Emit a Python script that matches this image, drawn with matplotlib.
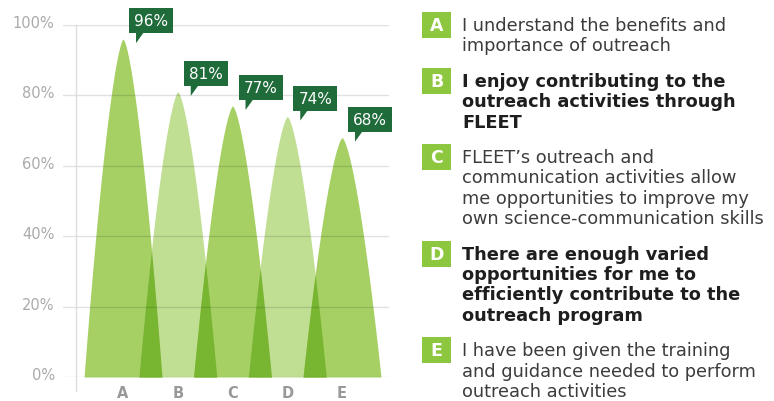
import numpy as np
import matplotlib.pyplot as plt
from matplotlib.patches import Rectangle, Polygon
from matplotlib.transforms import ScaledTranslation

categories = ['A', 'B', 'C', 'D', 'E']
values = [96, 81, 77, 74, 68]
y_ticks = [0, 20, 40, 60, 80, 100]
statements = [
    ['I understand the benefits and', 'importance of outreach'],
    ['I enjoy contributing to the', 'outreach activities through', 'FLEET'],
    ['FLEET\u2019s outreach and', 'communication activities allow',
     'me opportunities to improve my', 'own science-communication skills'],
    ['There are enough varied', 'opportunities for me to',
     'efficiently contribute to the', 'outreach program'],
    ['I have been given the training', 'and guidance needed to perform',
     'outreach activities'],
]
bold_items = [False, True, False, True, False]

dark_fill = '#a6d064'
light_fill = '#c0df93'
overlap_fill = '#78b530'
callout = '#1f6b3a'
badge = '#8dc63f'

W, H = 774, 402
fig = plt.figure(figsize=(W / 100, H / 100), dpi=100)
ax = fig.add_axes([63 / W, 1 - 378 / H, (389 - 63) / W, (378 - 26) / H])
ax.set_xlim(-1.096, 4.858)
ax.set_ylim(0, 100)
for s in ax.spines.values():
    s.set_visible(False)

# peak shapes
half_w = 0.712
xs = np.linspace(-1.1, 4.9, 3000)
shapes = []
for i, v in enumerate(values):
    t = np.clip(np.abs(xs - i) / half_w, 0, 1)
    y = v * (1 - t ** 1.5)
    shapes.append(y)
    ax.fill_between(xs, 0, y, where=y > 0, color=dark_fill if i % 2 == 0 else light_fill,
                    lw=0, zorder=2)
for i in range(len(values) - 1):
    y = np.minimum(shapes[i], shapes[i + 1])
    ax.fill_between(xs, 0, y, where=y > 0, color=overlap_fill, lw=0, zorder=3)

# grid + axis line
for yt in y_ticks:
    ax.axhline(yt, color='black', alpha=0.12, lw=1, zorder=4)
ax.plot([-0.858, -0.858], [-4, 100], color='#dddddd', lw=1, clip_on=False, zorder=4)

ax.set_yticks(y_ticks)
ax.set_yticklabels([f'{t}%' for t in y_ticks])
ax.tick_params(axis='y', length=0, pad=6, labelsize=10.5, labelcolor='#aaaaaa')
for lab in ax.get_yticklabels():
    lab.set_transform(lab.get_transform() + ScaledTranslation(0, 4 / 100, fig.dpi_scale_trans))
ax.set_xticks(range(len(categories)))
ax.set_xticklabels(categories, fontweight='bold')
ax.tick_params(axis='x', length=0, pad=6, labelsize=10.5, labelcolor='#999999')

# callouts
inv = fig.transFigure.inverted()
fig.canvas.draw()
for i, v in enumerate(values):
    px, py = ax.transData.transform((i, v))
    bl = px + 6
    bb = py + 6
    bw, bh = 44, 25
    rect = Rectangle(inv.transform((bl, bb)), bw / W, bh / H, transform=fig.transFigure,
                     color=callout, lw=0, zorder=5)
    fig.patches.append(rect)
    tri = Polygon([inv.transform(p) for p in [(bl + 7, bb + 1), (bl + 15, bb + 1), (bl + 7, bb - 10)]],
                  closed=True, transform=fig.transFigure, color=callout, lw=0, zorder=5)
    fig.patches.append(tri)
    cx, cy = inv.transform((bl + bw / 2, bb + bh / 2))
    fig.text(cx, cy, f'{v}%', color='white', fontsize=11, ha='center', va='center', zorder=6)

# legend statements
line_gap = 20.4
item_gap = 15
y = 26
for k, (cat, lines) in enumerate(zip(categories, statements)):
    fig.patches.append(Rectangle((422 / W, 1 - (y + 13) / H), 29 / W, 26 / H,
                                 transform=fig.transFigure, color=badge, lw=0))
    fig.text(436.5 / W, 1 - y / H, cat, color='white', fontsize=12.5, fontweight='bold',
             ha='center', va='center')
    for j, ln in enumerate(lines):
        fig.text(462 / W, 1 - (y + j * line_gap) / H, ln, fontsize=12.8,
                 fontweight='bold' if bold_items[k] else 'normal',
                 color='#1e1e1e' if bold_items[k] else '#3c3c3c', ha='left', va='center')
    y += len(lines) * line_gap + item_gap

fig.savefig('out.png', dpi=100)
